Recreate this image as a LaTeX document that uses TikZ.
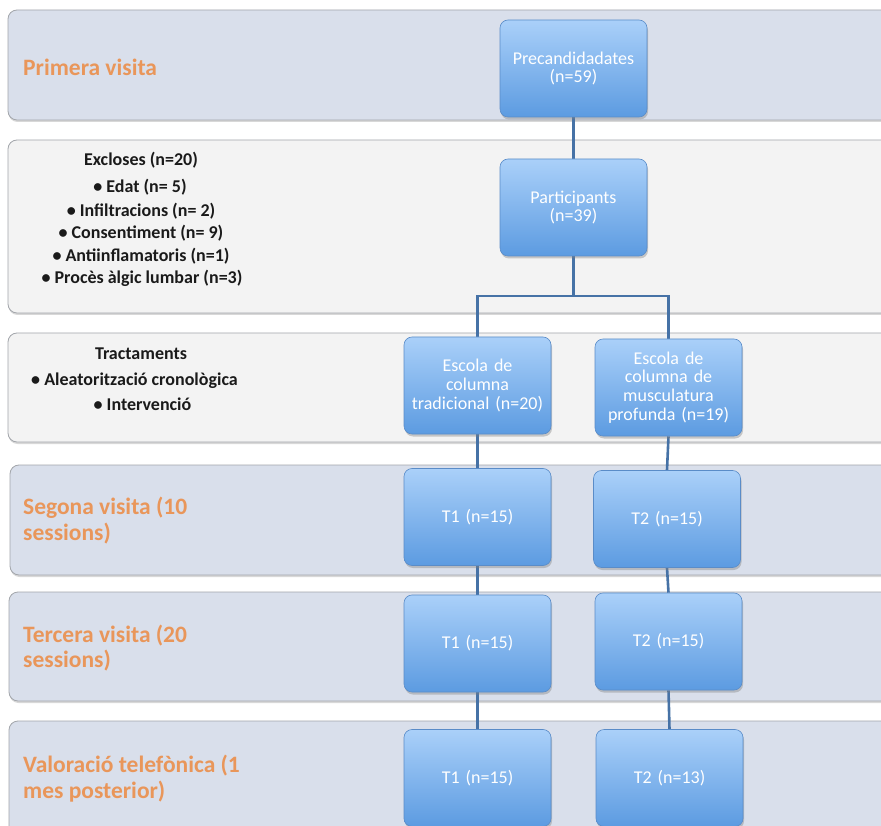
\documentclass[tikz,border=0pt]{standalone}
\usepackage{fontspec}
\setmainfont{Carlito}
\usetikzlibrary{shadows}
\pgfdeclarelayer{bands}
\pgfdeclarelayer{links}
\pgfsetlayers{bands,links,main}
\definecolor{bandblue}{HTML}{D9DFEB}
\definecolor{bandgrey}{HTML}{F3F3F3}
\definecolor{bandedge}{HTML}{A3A6AB}
\definecolor{orangetxt}{HTML}{E9965A}
\definecolor{boxtop}{HTML}{AAD0F9}
\definecolor{boxbot}{HTML}{5C9BE1}
\definecolor{boxedge}{HTML}{5A8CC8}
\definecolor{linkblue}{HTML}{4672A6}
\definecolor{listtxt}{HTML}{1A1A1A}
\begin{document}
\begin{tikzpicture}[x=1pt,y=-1pt,
  band/.style={draw=bandedge, line width=0.8pt, rounded corners=9pt,
    drop shadow={shadow xshift=0.5pt, shadow yshift=-2pt, opacity=0.3}},
  flowbox/.style={draw=boxedge, line width=0.6pt, rounded corners=8pt,
    top color=boxtop, bottom color=boxbot, text=white,
    minimum width=147pt, minimum height=97pt, text width=145pt, align=center,
    inner sep=0pt, font=\fontsize{18}{18.6}\selectfont,
    drop shadow={shadow xshift=1pt, shadow yshift=-2.5pt, opacity=0.4}},
  phase/.style={anchor=west, align=left, text=orangetxt,
    font=\fontsize{23.5}{25.5}\selectfont\bfseries, inner sep=0pt},
  listitem/.style={text=listtxt, font=\fontsize{18}{20}\selectfont\bfseries, inner sep=0pt},
  link/.style={draw=linkblue, line width=2.6pt}
]
\useasboundingbox (0,0) rectangle (881,826);
\clip (0,0) rectangle (881,826);

\begin{pgfonlayer}{bands}
\fill[white] (0,0) rectangle (881,826);
\path[band, fill=bandblue] (8,10) rectangle (900,120);
\path[band, fill=bandgrey] (8,140) rectangle (900,313);
\path[band, fill=bandgrey] (8,333) rectangle (900,442);
\path[band, fill=bandblue] (10,465) rectangle (900,575);
\path[band, fill=bandblue] (9,592) rectangle (900,701);
\path[band, fill=bandblue] (9,721) rectangle (900,860);
\end{pgfonlayer}

% phase labels
\node[phase] (l1) at (23,67) {Primera visita};
\node[phase] (l4) at (23,520.5) {Segona visita (10\\sessions)};
\node[phase] (l5) at (23,648) {Tercera visita (20\\sessions)};
\node[phase] (l6) at (23,778.5) {Valoració telefònica (1\\mes posterior)};

% lists
\node[listitem] (ex0) at (141,160) {Excloses (n=20)};
\node[listitem] (ex1) at (140,187) {• Edat (n= 5)};
\node[listitem] (ex2) at (141,211) {• Infiltracions (n= 2)};
\node[listitem] (ex3) at (141,233) {• Consentiment (n= 9)};
\node[listitem] (ex4) at (141,256) {• Antiinflamatoris (n=1)};
\node[listitem] (ex5) at (142,278) {• Procès àlgic lumbar (n=3)};
\node[listitem] (tr0) at (141,354) {Tractaments};
\node[listitem] (tr1) at (134.5,381) {• Aleatorització cronològica};
\node[listitem] (tr2) at (142.5,404) {• Intervenció};

% boxes
\node[flowbox] (pre) at (573.5,68.5) {Precandidadates\\(n=59)};
\node[flowbox] (part) at (573.5,207.5) {Participants\\(n=39)};
\node[flowbox] (esc1) at (477.5,385.5) {Escola de\\columna\\tradicional (n=20)};
\node[flowbox] (esc2) at (668.5,387.5) {Escola de\\columna de\\musculatura\\profunda (n=19)};
\node[flowbox] (s1) at (477.5,517) {T1 (n=15)};
\node[flowbox] (s2) at (667,519) {T2 (n=15)};
\node[flowbox] (t1) at (477.5,643.5) {T1 (n=15)};
\node[flowbox] (t2) at (668.5,641.5) {T2 (n=15)};
\node[flowbox] (v1) at (477.5,778) {T1 (n=15)};
\node[flowbox] (v2) at (669.5,778) {T2 (n=13)};

% branch coordinate
\coordinate (br) at (573.5,296);

% connectors
\begin{pgfonlayer}{links}
\draw[link] (pre.south) -- (part.north);
\draw[link] (part.south) -- (br);
\draw[link] (br) -| (esc1.north);
\draw[link] (br) -| (esc2.north);
\draw[link] (esc1.south) -- (s1.north);
\draw[link] (esc2.south) -- (s2.north);
\draw[link] (s1.south) -- (t1.north);
\draw[link] (s2.south) -- (t2.north);
\draw[link] (t1.south) -- (v1.north);
\draw[link] (t2.south) -- (v2.north);
\end{pgfonlayer}
\end{tikzpicture}
\end{document}
